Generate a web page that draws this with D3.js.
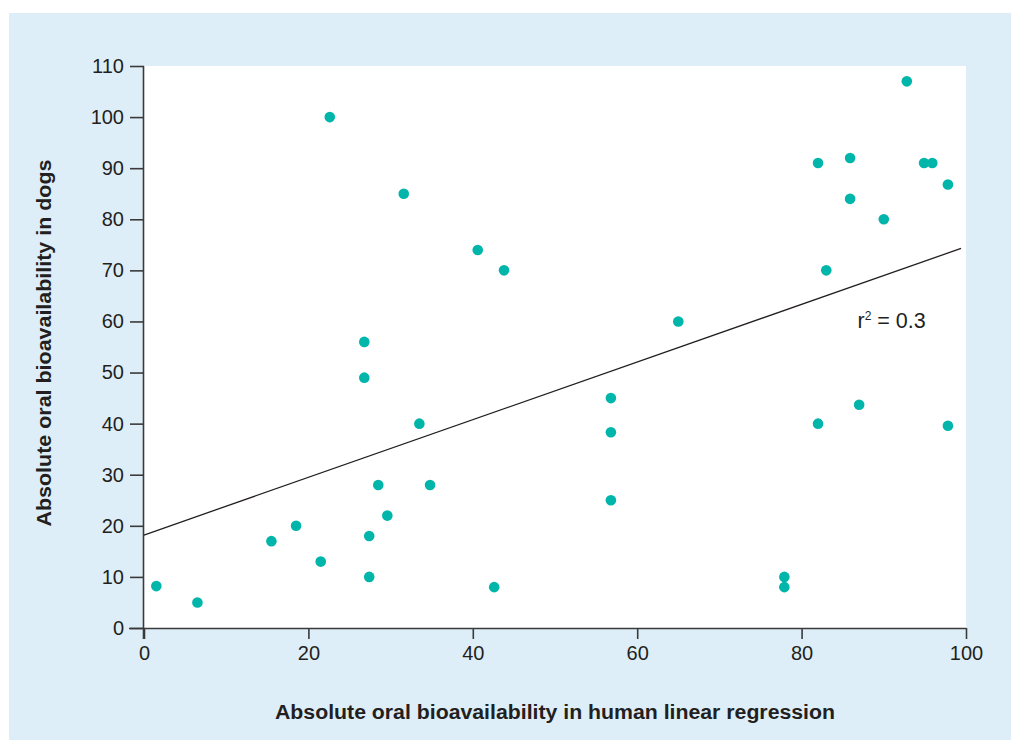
<!DOCTYPE html>
<html lang="en">
  <head>
    <meta charset="UTF-8" />
    <title>Oral bioavailability dogs vs human</title>
    <script src="https://cdn.jsdelivr.net/npm/d3@7"></script>
    <style>
      body { margin: 0; background: #fff; }
      svg { display: block; font-family: "Liberation Sans", Arial, sans-serif; }
    </style>
  </head>
  <body>
    <div id="chart"></div>
    <script>
      // human bioavailability (x) and dog bioavailability (y)
      const humanF = [1.5, 6.5, 15.5, 18.5, 21.5, 22.6, 26.8, 26.8, 27.4, 27.4, 28.5, 29.6,
        31.6, 33.5, 34.8, 40.6, 42.6, 43.8, 56.8, 56.8, 56.8, 65, 77.9, 77.9,
        82, 82, 83, 85.9, 85.9, 87, 90, 92.8, 94.9, 95.9, 97.8, 97.8];
      const dogF = [8.2, 5, 17, 20, 13, 100, 56, 49, 18, 10, 28, 22,
        85, 40, 28, 74, 8, 70, 45, 38.3, 25, 60, 10, 8,
        91, 40, 70, 92, 84, 43.7, 80, 107, 91, 91, 86.8, 39.6];
      // regression line end points
      const fitX = [0, 99.4];
      const fitY = [18.2, 74.3];
      const xTicks = [0, 20, 40, 60, 80, 100];
      const yTicks = [0, 10, 20, 30, 40, 50, 60, 70, 80, 90, 100, 110];

      const W = 1011, H = 740;
      const svg = d3.select("#chart").append("svg")
        .attr("width", W).attr("height", H);

      // light blue panel
      svg.append("rect")
        .attr("x", 9).attr("y", 13)
        .attr("width", W - 9).attr("height", H - 13)
        .attr("fill", "#deeef8");

      const pLeft = 144, pRight = 966, pTop = 66, pBottom = 628;
      svg.append("rect")
        .attr("x", pLeft).attr("y", pTop)
        .attr("width", pRight - pLeft).attr("height", pBottom - pTop)
        .attr("fill", "#fff");

      const x = d3.scaleLinear().domain([0, 100]).range([pLeft, pRight]);
      const y = d3.scaleLinear().domain([0, 110]).range([pBottom, pTop]);

      const txt = "#231f20";

      // x axis
      const gx = svg.append("g")
        .attr("transform", "translate(0," + pBottom + ")")
        .call(d3.axisBottom(x).tickValues(xTicks).tickSize(11).tickSizeOuter(0).tickPadding(7));
      gx.select(".domain").attr("d", "M" + (pLeft - 15) + ",0.5H" + pRight).attr("stroke", "#3a3a3a").attr("stroke-width", 1.6);
      gx.selectAll(".tick line").attr("stroke", "#3a3a3a").attr("stroke-width", 1.6);
      gx.selectAll(".tick text").attr("font-size", 20).attr("fill", txt)
        .attr("font-family", "Liberation Sans, Arial, sans-serif");

      // y axis
      const gy = svg.append("g")
        .attr("transform", "translate(" + pLeft + ",0)")
        .call(d3.axisLeft(y).tickValues(yTicks).tickSize(14).tickSizeOuter(0).tickPadding(6));
      gy.select(".domain").attr("d", "M-0.5," + pTop + "V" + (pBottom + 11)).attr("stroke", "#3a3a3a").attr("stroke-width", 1.6);
      gy.selectAll(".tick line").attr("stroke", "#3a3a3a").attr("stroke-width", 1.6);
      gy.selectAll(".tick text").attr("font-size", 20).attr("fill", txt)
        .attr("font-family", "Liberation Sans, Arial, sans-serif");

      // regression line
      const line = d3.line().x(d => x(d[0])).y(d => y(d[1]));
      svg.append("path")
        .datum(d3.zip(fitX, fitY))
        .attr("d", line)
        .attr("fill", "none")
        .attr("stroke", "#231f20")
        .attr("stroke-width", 1.3);

      // points
      svg.append("g").selectAll("circle")
        .data(d3.zip(humanF, dogF))
        .join("circle")
        .attr("cx", d => x(d[0]))
        .attr("cy", d => y(d[1]))
        .attr("r", 5.3)
        .attr("fill", "#00b5aa");

      // r² annotation
      const r2 = svg.append("text")
        .attr("x", x(86.8)).attr("y", y(58.8))
        .attr("font-size", 21.5).attr("fill", txt);
      r2.append("tspan").text("r");
      r2.append("tspan").attr("font-size", 12).attr("dy", -8).text("2");
      r2.append("tspan").attr("dy", 8).text(" = 0.3");

      // axis titles
      svg.append("text")
        .attr("x", 555).attr("y", 719)
        .attr("text-anchor", "middle")
        .attr("font-size", 20).attr("font-weight", "bold").attr("fill", txt)
        .attr("textLength", 560).attr("lengthAdjust", "spacingAndGlyphs")
        .text("Absolute oral bioavailability in human linear regression");

      svg.append("text")
        .attr("transform", "translate(51,343) rotate(-90)")
        .attr("text-anchor", "middle")
        .attr("font-size", 20).attr("font-weight", "bold").attr("fill", txt)
        .attr("textLength", 367).attr("lengthAdjust", "spacingAndGlyphs")
        .text("Absolute oral bioavailability in dogs");
    </script>
  </body>
</html>
